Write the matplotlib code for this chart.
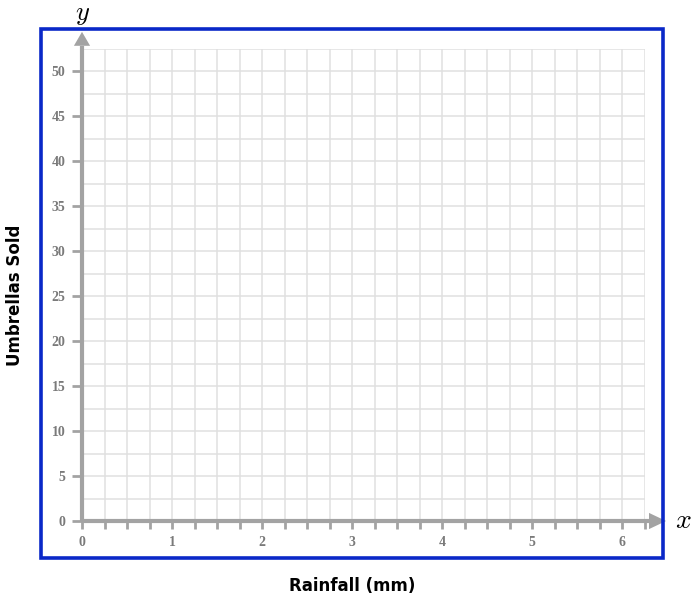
import numpy as np
import matplotlib
matplotlib.use("Agg")
import matplotlib.pyplot as plt
from matplotlib.patches import Rectangle, Polygon

# axis ranges / ticks
x_max = 6.25
y_max = 52.5
x_labels = [0, 1, 2, 3, 4, 5, 6]
y_labels = [0, 5, 10, 15, 20, 25, 30, 35, 40, 45, 50]
x_minor = np.arange(0, 6.25 + 0.001, 0.25)
y_minor = np.arange(0, 52.5 + 0.001, 2.5)
x_title = "Rainfall (mm)"
y_title = "Umbrellas Sold"

W, H = 695, 600
fig = plt.figure(figsize=(W / 100, H / 100), dpi=100)

# axes placed so that 0 sits at pixel (82, 521)
ax = fig.add_axes([82 / W, (H - 521) / H, 562.5 / W, 472.5 / H])
ax.set_xlim(0, x_max)
ax.set_ylim(0, y_max)

axis_col = "#a3a3a3"
grid_col = "#e0e0e0"
label_col = "#7a7a7a"

ax.set_xticks(x_labels)
ax.set_xticks(x_minor, minor=True)
ax.set_yticks(y_labels)
ax.set_yticks(y_minor, minor=True)
ax.grid(which="both", color=grid_col, lw=1.1)
ax.set_axisbelow(True)

for s in ["top", "right"]:
    ax.spines[s].set_visible(False)
for s in ["left", "bottom"]:
    ax.spines[s].set_color(axis_col)
    ax.spines[s].set_linewidth(3)
    ax.spines[s].set_capstyle("butt")

ax.tick_params(axis="x", which="both", length=6, width=2, color=axis_col, direction="out", pad=5)
ax.tick_params(axis="y", which="major", length=7, width=2, color=axis_col, direction="out", pad=5)
ax.tick_params(axis="y", which="minor", length=0)
for lab in ax.get_xticklabels() + ax.get_yticklabels():
    lab.set_fontfamily("Liberation Serif")
    lab.set_fontweight("bold")
    lab.set_fontsize(10)
    lab.set_color(label_col)

# extend axis lines and arrowheads
ax.plot([x_max, x_max + 0.06], [0, 0], color=axis_col, lw=3, clip_on=False, solid_capstyle="butt")
ax.plot([0, 0], [y_max, y_max + 0.3], color=axis_col, lw=3, clip_on=False, solid_capstyle="butt")
ax.add_patch(Polygon([[x_max + 0.05, 0.9], [x_max + 0.05, -0.9], [x_max + 0.24, 0]],
                     closed=True, color=axis_col, clip_on=False, lw=0))
ax.add_patch(Polygon([[-0.09, y_max + 0.3], [0.09, y_max + 0.3], [0, y_max + 1.85]],
                     closed=True, color=axis_col, clip_on=False, lw=0))

# blue frame
fig.patches.append(Rectangle((41 / W, (H - 558) / H), 622 / W, 529 / H,
                             transform=fig.transFigure, fill=False,
                             edgecolor="#0a28c8", lw=2.6))

plt.rcParams["mathtext.fontset"] = "cm"
fig.text(83 / W, 1 - 14 / H, r"$y$", fontsize=19, ha="center", va="center")
fig.text(683 / W, 1 - 520 / H, r"$x$", fontsize=20, ha="center", va="center")

fig.text(352 / W, 1 - 586 / H, x_title, fontsize=12, fontweight="bold",
         family="DejaVu Sans", ha="center", va="center")
fig.text(15 / W, 1 - 295 / H, y_title, fontsize=12, fontweight="bold",
         family="DejaVu Sans", ha="center", va="center", rotation=90)

fig.savefig("out.png", dpi=100)
